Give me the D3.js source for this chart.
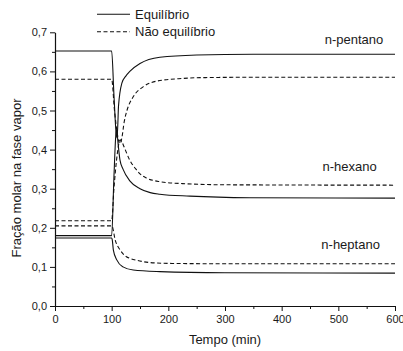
<!DOCTYPE html>
<html lang="pt">
<head>
<meta charset="utf-8">
<title></title>
<style>
  body, html {
    margin: 0;
    padding: 0;
    background: #fff;
    font-family: "Liberation Sans", Arial, Helvetica, sans-serif;
  }
  text { fill: #1a1a1a; }
  .curve {
    fill: none;
    stroke: #111;
    stroke-width: 1.1px;
  }
  .dash { stroke-dasharray: 4, 2.5; }
  .axis path, .axis line { stroke: #111; }
  .axis text { font-size: 11px; fill: #1a1a1a; font-family: "Liberation Sans", Arial, sans-serif; }
</style>
</head>
<body>
<svg></svg>
<script src="https://d3js.org/d3.v7.min.js"></script>
<script>

// values: [tempo, fracao]
let pentanoEq = [[0,0.652],[100,0.652],[104,0.54],[108,0.44],[109.5,0.43],[111,0.47],[112,0.51],[118,0.57],[125,0.588],[132,0.60],[150,0.62],[185,0.636],[250,0.642],[350,0.644],[600,0.644]];
let hexanoEq = [[0,0.18],[100,0.18],[104,0.33],[107.5,0.44],[109,0.45],[111,0.42],[114.7,0.373],[120,0.35],[132,0.32],[150,0.30],[168,0.29],[185,0.286],[238,0.281],[344,0.277],[600,0.276]];
let heptanoEq = [[0,0.174],[100,0.174],[101,0.17],[103,0.143],[109,0.118],[120,0.10],[138,0.092],[185,0.088],[300,0.085],[600,0.084]];

let pentanoNeq = [[0,0.58],[100,0.58],[105,0.50],[110,0.44],[114.5,0.415],[118,0.43],[122,0.47],[127,0.50],[138,0.535],[156,0.561],[179,0.575],[226,0.582],[256,0.584],[350,0.585],[600,0.585]];
let hexanoNeq = [[0,0.218],[100,0.218],[104,0.30],[110,0.39],[115,0.425],[118,0.42],[121,0.41],[132,0.373],[144,0.348],[150,0.338],[162,0.327],[185,0.318],[225,0.313],[300,0.31],[600,0.309]];
let heptanoNeq = [[0,0.205],[100,0.205],[101,0.204],[106,0.17],[115,0.143],[126,0.126],[132,0.122],[144,0.117],[168,0.111],[200,0.109],[300,0.108],[600,0.108]];

let xTicks = [0, 100, 200, 300, 400, 500, 600];
let yTicks = [0, 0.1, 0.2, 0.3, 0.4, 0.5, 0.6, 0.7];

let legendItems = [
  { label: "Equilíbrio", dash: false },
  { label: "Não equilíbrio", dash: true }
];
let curveLabels = [
  { label: "n-pentano", t: 476, v: 0.670 },
  { label: "n-hexano", t: 472, v: 0.344 },
  { label: "n-heptano", t: 470, v: 0.147 }
];

let w = 403, h = 351;
let svg = d3.select("svg").attr("width", w).attr("height", h);

let x = d3.scaleLinear().domain([0, 600]).range([55, 395]);
let y = d3.scaleLinear().domain([0, 0.7]).range([306, 32.3]);

let fmt = d => d3.format(".1f")(d).replace(".", ",");
let fmtX = d3.format("d");

// minor ticks first
svg.append("g")
  .attr("class", "axis")
  .attr("transform", "translate(55,0)")
  .call(d3.axisLeft(y).tickValues(d3.range(0.05, 0.7, 0.1)).tickSize(3).tickFormat(""))
  .select(".domain").remove();
svg.append("g")
  .attr("class", "axis")
  .attr("transform", "translate(0,306)")
  .call(d3.axisBottom(x).tickValues(d3.range(50, 600, 100)).tickSize(3).tickFormat(""))
  .select(".domain").remove();

svg.append("g")
  .attr("class", "axis")
  .attr("transform", "translate(55,0)")
  .call(d3.axisLeft(y).tickValues(yTicks).tickSize(5).tickSizeOuter(0).tickPadding(3).tickFormat(fmt));

svg.append("g")
  .attr("class", "axis")
  .attr("transform", "translate(0,306)")
  .call(d3.axisBottom(x).tickValues(xTicks).tickSize(5).tickSizeOuter(0).tickPadding(4).tickFormat(fmtX));

svg.selectAll(".axis path.domain").attr("stroke-width", 1.2);

let line = d3.line()
  .x(d => x(d[0]))
  .y(d => y(d[1]))
  .curve(d3.curveMonotoneX);

[pentanoEq, hexanoEq, heptanoEq].forEach(s => {
  svg.append("path").attr("class", "curve").attr("d", line(s));
});
[pentanoNeq, hexanoNeq, heptanoNeq].forEach(s => {
  svg.append("path").attr("class", "curve dash").attr("d", line(s));
});

// legend
let legend = svg.append("g").attr("transform", "translate(97,14.3)");
legendItems.forEach((d, i) => {
  legend.append("line")
    .attr("class", d.dash ? "curve dash" : "curve")
    .attr("x1", 0).attr("x2", 33)
    .attr("y1", i * 17.4).attr("y2", i * 17.4);
  legend.append("text")
    .attr("x", 38).attr("y", i * 17.4 + 4.5)
    .style("font-size", "13px")
    .text(d.label);
});

// curve names
svg.selectAll(".clabel")
  .data(curveLabels)
  .enter()
  .append("text")
  .attr("class", "clabel")
  .attr("x", d => x(d.t))
  .attr("y", d => y(d.v))
  .style("font-size", "13px")
  .text(d => d.label);

// axis titles
svg.append("text")
  .attr("x", 225).attr("y", 344)
  .attr("text-anchor", "middle")
  .style("font-size", "13px")
  .text("Tempo (min)");

svg.append("text")
  .attr("transform", "translate(21,178) rotate(-90)")
  .attr("text-anchor", "middle")
  .style("font-size", "13px")
  .text("Fração molar na fase vapor");

</script>
</body>
</html>
